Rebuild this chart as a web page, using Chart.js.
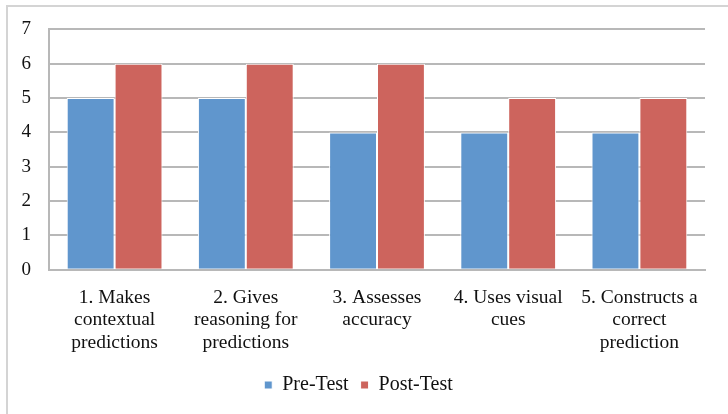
<!DOCTYPE html>
<html>
<head>
<meta charset="utf-8">
<script src="https://cdn.jsdelivr.net/npm/chart.js@4/dist/chart.umd.min.js"></script>
<style>
  html, body { margin: 0; padding: 0; background: #fff; }
  #wrap { position: relative; width: 728px; height: 414px; }
</style>
</head>
<body>
<div id="wrap"><canvas id="chart" width="728" height="414"></canvas></div>
<script>
'use strict';

const categories = [
  ['1. Makes', 'contextual', 'predictions'],
  ['2. Gives', 'reasoning for', 'predictions'],
  ['3. Assesses', 'accuracy'],
  ['4. Uses visual', 'cues'],
  ['5. Constructs a', 'correct', 'prediction']
];
const preTest = [5, 5, 4, 4, 4];
const postTest = [6, 6, 6, 5, 5];
const yTicks = [0, 1, 2, 3, 4, 5, 6, 7];

const serif = '"Liberation Serif", "DejaVu Serif", serif';

// grey frame around the whole chart, like the office export
const framePlugin = {
  id: 'frame',
  beforeDraw(chart) {
    const ctx = chart.ctx;
    ctx.save();
    ctx.strokeStyle = '#d4d4d4';
    ctx.lineWidth = 2;
    ctx.strokeRect(7, 6, 900, 900);
    ctx.restore();
  }
};

new Chart(document.getElementById('chart'), {
  type: 'bar',
  data: {
    labels: categories,
    datasets: [
      {
        label: 'Pre-Test',
        data: preTest,
        backgroundColor: '#6096CD',
        borderColor: '#ffffff',
        borderWidth: 1
      },
      {
        label: 'Post-Test',
        data: postTest,
        backgroundColor: '#CD645D',
        borderColor: '#ffffff',
        borderWidth: 1
      }
    ]
  },
  options: {
    responsive: false,
    animation: false,
    layout: { padding: { left: 12, right: 23, top: 24, bottom: 9 } },
    datasets: {
      bar: { categoryPercentage: 0.73, barPercentage: 1.0 }
    },
    scales: {
      x: {
        grid: { display: false },
        border: { color: '#b8b8b8', width: 2 },
        ticks: {
          color: '#111',
          font: { family: serif, size: 19.5, lineHeight: 1.15 },
          maxRotation: 0,
          autoSkip: false,
          padding: 9
        }
      },
      y: {
        min: 0,
        max: 7,
        afterBuildTicks(scale) {
          scale.ticks = yTicks.map(v => ({ value: v }));
        },
        afterFit(scale) { scale.width = 37; },
        grid: { color: '#b8b8b8', lineWidth: 2, drawTicks: false },
        border: { color: '#b8b8b8', width: 2 },
        ticks: {
          color: '#111',
          font: { family: serif, size: 19 },
          padding: 18
        }
      }
    },
    plugins: {
      legend: {
        position: 'bottom',
        labels: {
          color: '#111',
          font: { family: serif, size: 20 },
          boxWidth: 8,
          boxHeight: 8,
          padding: 12
        }
      },
      tooltip: { enabled: false }
    }
  },
  plugins: [framePlugin]
});
</script>
</body>
</html>
